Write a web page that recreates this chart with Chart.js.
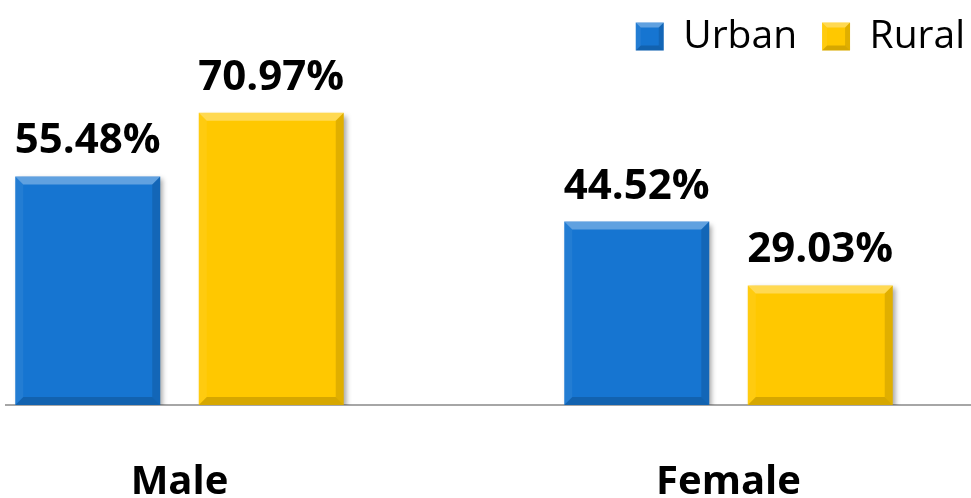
<!DOCTYPE html>
<html>
<head>
<meta charset="utf-8">
<script src="https://cdn.jsdelivr.net/npm/chart.js@4.4.0/dist/chart.umd.min.js"></script>
<style>
  html, body { margin: 0; padding: 0; background: #fff; overflow: hidden; }
  #wrap { position: absolute; left: 0; top: -8px; width: 990px; height: 569px; }
</style>
</head>
<body>
<div id="wrap"><canvas id="genderChart"></canvas></div>
<script>
const categories = ["Male", "Female"];
const seriesNames = ["Urban", "Rural"];
const urbanValues = [55.48, 44.52];
const ruralValues = [70.97, 29.03];

const URBAN_COLOR = "#1675d1";
const RURAL_COLOR = "#ffc800";

// bars sit on a linear index axis so the two groups can be placed like the original (cropped) picture
const toPoints = (values) => values.map((value, i) => ({ x: i, y: value }));

const shadowPlugin = {
  id: "barShadow",
  beforeDatasetsDraw: (chart) => {
    const ctx = chart.ctx;
    ctx.save();
    ctx.shadowColor = "rgba(0, 0, 0, 0.35)";
    ctx.shadowBlur = 5;
    ctx.shadowOffsetX = 3;
    ctx.shadowOffsetY = 3;
  },
  afterDatasetsDraw: (chart) => {
    chart.ctx.restore();
  },
};

const quad = (ctx, pts, fill) => {
  ctx.beginPath();
  ctx.moveTo(pts[0][0], pts[0][1]);
  pts.slice(1).forEach((p) => ctx.lineTo(p[0], p[1]));
  ctx.closePath();
  ctx.fillStyle = fill;
  ctx.fill();
};

const bevel = (ctx, l, t, r, bot, b) => {
  quad(ctx, [[l, t], [r, t], [r - b, t + b], [l + b, t + b]], "rgba(255, 255, 255, 0.32)");
  quad(ctx, [[r, t], [r, bot], [r - b, bot - b], [r - b, t + b]], "rgba(0, 0, 0, 0.12)");
  quad(ctx, [[l, bot], [r, bot], [r - b, bot - b], [l + b, bot - b]], "rgba(0, 0, 0, 0.16)");
  quad(ctx, [[l, t], [l, bot], [l + b, bot - b], [l + b, t + b]], "rgba(255, 255, 255, 0.06)");
};

const bevelPlugin = {
  id: "barBevel",
  afterDatasetsDraw: (chart) => {
    const ctx = chart.ctx;
    chart.data.datasets.forEach((dataset, di) => {
      chart.getDatasetMeta(di).data.forEach((bar) => {
        bevel(ctx, bar.x - bar.width / 2, bar.y, bar.x + bar.width / 2, bar.base, 8);
      });
    });
  },
  afterDraw: (chart) => {
    const legend = chart.legend;
    const boxW = legend.options.labels.boxWidth;
    const boxH = legend.options.labels.boxHeight;
    legend.legendHitBoxes.forEach((box) => {
      const top = box.top + (box.height - boxH) / 2;
      bevel(chart.ctx, box.left, top, box.left + boxW, top + boxH, 5);
    });
  },
};

const valueLabelPlugin = {
  id: "valueLabels",
  afterDatasetsDraw: (chart) => {
    const ctx = chart.ctx;
    ctx.save();
    ctx.font = "bold 42px 'Open Sans'";
    ctx.fillStyle = "#000";
    ctx.textAlign = "center";
    ctx.textBaseline = "alphabetic";
    chart.data.datasets.forEach((dataset, di) => {
      chart.getDatasetMeta(di).data.forEach((bar, i) => {
        ctx.fillText(`${dataset.data[i].y.toFixed(2)}%`, bar.x, bar.y - 23);
      });
    });
    ctx.restore();
  },
};

const ctx = document.getElementById("genderChart").getContext("2d");

new Chart(ctx, {
  type: "bar",
  data: {
    datasets: [
      {
        label: seriesNames[0],
        data: toPoints(urbanValues),
        backgroundColor: URBAN_COLOR,
        borderWidth: 0,
      },
      {
        label: seriesNames[1],
        data: toPoints(ruralValues),
        backgroundColor: RURAL_COLOR,
        borderWidth: 0,
      },
    ],
  },
  options: {
    responsive: true,
    maintainAspectRatio: false,
    animation: false,
    categoryPercentage: 0.6685,
    barPercentage: 0.79,
    layout: {
      padding: { left: 6, right: 0, top: 0, bottom: 0 },
    },
    plugins: {
      legend: {
        position: "top",
        align: "end",
        labels: {
          boxWidth: 28,
          boxHeight: 28,
          padding: 25,
          color: "#000",
          font: { family: "'Open Sans'", size: 39 },
        },
      },
      tooltip: { enabled: false },
    },
    scales: {
      x: {
        type: "linear",
        offset: false,
        min: -0.316,
        max: 1.4763,
        grid: { display: false, drawTicks: false, offset: false },
        border: { display: true, color: "#a6a6a6", width: 2 },
        ticks: {
          stepSize: 1,
          includeBounds: false,
          maxRotation: 0,
          minRotation: 0,
          padding: 54,
          color: "#000",
          font: { family: "'Open Sans'", size: 40, weight: "bold" },
          callback: (value) => categories[value] ?? "",
        },
      },
      y: {
        display: false,
        min: 0,
        max: 82.3,
      },
    },
  },
  plugins: [shadowPlugin, bevelPlugin, valueLabelPlugin],
});
</script>
</body>
</html>
